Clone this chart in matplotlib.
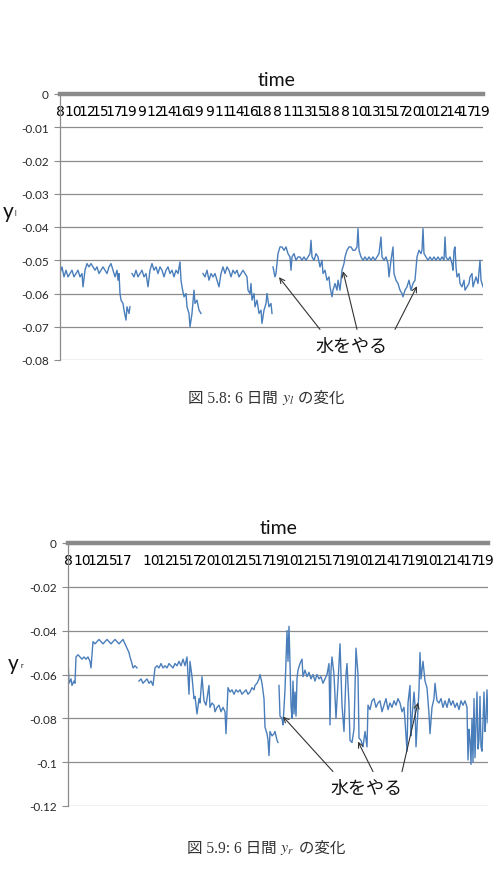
import numpy as np
import matplotlib
matplotlib.use("Agg")
import matplotlib.pyplot as plt

nan = np.nan

# ---------------- data: chart 1 (y_l) ----------------
yl_labels = ["8", "10", "12", "15", "17", "19", "9", "12", "14", "16", "19", "9", "11", "14", "16", "18",
             "8", "11", "13", "15", "18", "8", "10", "13", "15", "17", "20", "10", "12", "14", "17", "19"]
yl_ticks = [0, -0.01, -0.02, -0.03, -0.04, -0.05, -0.06, -0.07, -0.08]
yl_ticklabels = ["0", "-0.01", "-0.02", "-0.03", "-0.04", "-0.05", "-0.06", "-0.07", "-0.08"]

yl_t = [0, 2, 4, 6, 8, 10, 12, 14, 16, 18, 20, 22, 23, 25, 27, 29, 31, 33, 35, 37, 39, 41, 43, 45, 47, 49, 51,
        53, 55, 57, 58, 59, 60, 61, 63, 64, 66, 67, 69, 70,
        71,
        72, 74, 76, 78, 80, 82, 84, 86, 88, 90, 92, 94, 96, 98, 100, 102, 104, 106, 108, 110, 112, 114, 116, 118,
        120, 121, 122, 124, 126, 127, 129, 130, 132, 134, 135, 137, 139, 141,
        142,
        143, 145, 147, 149, 151, 153, 155, 157, 159, 161, 163, 165, 167, 169, 171, 173, 175, 177, 179, 181, 183,
        185, 187, 188, 190, 191, 192, 194, 195, 197, 199, 201, 202, 204, 206, 207, 209, 211, 212,
        212.5,
        213, 215, 216, 218, 220, 222, 224, 226, 228, 230, 231, 232, 234, 236, 238, 240, 242, 244, 246, 248, 250,
        251, 252, 254, 256, 258, 260, 262, 263, 265, 267, 269, 270, 272, 273, 275, 277, 278, 280, 282, 284, 285,
        287, 289, 291, 293, 295, 297, 298, 299, 301, 303, 305, 307, 309, 311, 313, 315, 317, 319, 321, 322, 324,
        326, 328, 329, 331, 333, 334, 336, 338, 340, 342, 343, 345, 347, 349, 351, 353, 355, 357, 359, 361, 362,
        363, 364, 366, 368, 370, 372, 374, 376, 378, 380, 382, 384, 385, 386, 388, 390, 392, 393, 394, 395, 396,
        397, 399, 400, 402, 404, 405, 407, 409, 410, 412, 413, 415, 416, 418, 420, 421, 423]
yl_v = [-0.054, -0.052, -0.055, -0.053, -0.055, -0.054, -0.053, -0.055, -0.054, -0.053, -0.055, -0.054, -0.058,
        -0.053, -0.051, -0.052, -0.051, -0.052, -0.053, -0.052, -0.054, -0.053, -0.052, -0.053, -0.054, -0.052,
        -0.051, -0.053, -0.055, -0.053, -0.056, -0.054, -0.060, -0.062, -0.063, -0.065, -0.068, -0.064, -0.066,
        -0.064,
        nan,
        -0.054, -0.055, -0.053, -0.055, -0.054, -0.053, -0.055, -0.054, -0.058, -0.053, -0.051, -0.053, -0.052,
        -0.054, -0.052, -0.053, -0.055, -0.053, -0.052, -0.054, -0.053, -0.055, -0.053, -0.054,
        -0.0505, -0.056, -0.058, -0.061, -0.060, -0.064, -0.066, -0.070, -0.066, -0.059, -0.063, -0.062, -0.065,
        -0.066,
        nan,
        -0.054, -0.055, -0.053, -0.056, -0.054, -0.055, -0.054, -0.056, -0.058, -0.054, -0.052, -0.054, -0.052,
        -0.053, -0.055, -0.053, -0.054, -0.053, -0.055, -0.054, -0.053, -0.054, -0.055, -0.059, -0.060, -0.057,
        -0.062, -0.060, -0.064, -0.062, -0.066, -0.065, -0.069, -0.065, -0.063, -0.060, -0.064, -0.063, -0.066,
        nan,
        -0.052, -0.055, -0.054, -0.048, -0.046, -0.046, -0.047, -0.046, -0.048, -0.049, -0.053, -0.049, -0.048,
        -0.050, -0.049, -0.049, -0.050, -0.049, -0.050, -0.049, -0.048, -0.044, -0.049, -0.050, -0.048, -0.049,
        -0.052, -0.050, -0.054, -0.053, -0.056, -0.055, -0.058, -0.061, -0.059, -0.057, -0.059, -0.056, -0.059,
        -0.053, -0.051, -0.049, -0.047, -0.046, -0.046, -0.047, -0.047, -0.046, -0.0405, -0.047, -0.049, -0.050,
        -0.049, -0.050, -0.049, -0.050, -0.049, -0.050, -0.049, -0.048, -0.043, -0.049, -0.050, -0.049, -0.051,
        -0.055, -0.050, -0.046, -0.054, -0.056, -0.057, -0.059, -0.060, -0.061, -0.059, -0.058, -0.056, -0.059,
        -0.057, -0.056, -0.049, -0.047, -0.048, -0.047, -0.0405, -0.048, -0.049, -0.050, -0.049, -0.050, -0.049,
        -0.050, -0.049, -0.050, -0.049, -0.050, -0.043, -0.049, -0.050, -0.049, -0.051, -0.053, -0.047, -0.046,
        -0.052, -0.055, -0.054, -0.057, -0.058, -0.056, -0.059, -0.058, -0.057, -0.055, -0.054, -0.058, -0.056,
        -0.055, -0.057, -0.050, -0.056, -0.058]

# ---------------- data: chart 2 (y_r) ----------------
yr_labels = ["8", "10", "12", "15", "17", "", "10", "12", "15", "17", "20", "10", "12", "15", "17", "19",
             "10", "12", "15", "17", "19", "10", "12", "14", "17", "19", "10", "12", "14", "17", "19"]
yr_ticks = [0, -0.02, -0.04, -0.06, -0.08, -0.10, -0.12]
yr_ticklabels = ["0", "-0.02", "-0.04", "-0.06", "-0.08", "-0.1", "-0.12"]

yr_t = [0, 1, 3, 4, 6, 7, 8, 10, 12, 14, 16, 18, 20, 22, 23, 25, 27, 29, 31, 33, 35, 37, 39, 41, 43, 45, 47, 49,
        51, 53, 55, 57, 59, 61, 62, 64, 65, 67, 69,
        70,
        71, 73, 75, 77, 79, 81, 83, 85, 87, 89, 91, 93, 95, 97, 99, 101, 103, 105, 107, 109, 111, 113, 115, 117,
        119, 121, 122, 124, 126, 127, 129, 131, 132, 134, 136, 138, 139, 141, 142, 144, 146, 147, 149, 151, 153,
        155, 157, 158, 160, 162, 164, 166, 168, 170, 172, 174, 176, 178, 180, 182, 184, 186, 187, 189, 191, 192,
        194, 196, 197, 199, 200, 201, 202, 204, 206, 207, 209, 210,
        210.5,
        211, 212, 214, 215, 217, 219, 220, 221, 222, 223, 224, 225, 226, 227, 228, 229, 230, 232, 234, 235, 237,
        239, 241, 243, 245, 247, 249, 251, 253, 255, 257, 259, 261, 262, 263, 264, 266, 268, 270, 272, 274, 276,
        278, 279, 281, 282, 284, 286, 288, 290, 291, 293, 295, 297, 299, 300, 302, 304, 306, 308, 310, 312, 314,
        316, 318, 320, 322, 324, 326, 328, 330, 332, 334, 336, 337, 339, 340, 342, 343, 344, 346, 347, 348, 349,
        351, 352, 353, 354, 355, 357, 359, 361, 362, 364, 366, 367, 369, 371, 373, 375, 377, 379, 381, 383, 385,
        387, 389, 391, 393, 395, 397, 399, 400, 401, 402, 403, 404, 405, 406, 407, 408, 409, 410, 411, 412, 413,
        414, 415, 416, 417, 418, 419, 420]
yr_v = [-0.053, -0.064, -0.062, -0.065, -0.063, -0.064, -0.052, -0.051, -0.052, -0.053, -0.052, -0.053, -0.052,
        -0.054, -0.057, -0.045, -0.046, -0.045, -0.044, -0.045, -0.046, -0.045, -0.044, -0.045, -0.046, -0.045,
        -0.044, -0.045, -0.046, -0.045, -0.044, -0.046, -0.048, -0.050, -0.052, -0.055, -0.057, -0.056, -0.057,
        nan,
        -0.063, -0.062, -0.064, -0.063, -0.062, -0.064, -0.063, -0.065, -0.057, -0.056, -0.057, -0.055, -0.057,
        -0.056, -0.057, -0.055, -0.056, -0.057, -0.055, -0.056, -0.054, -0.056, -0.053, -0.056, -0.052, -0.069,
        -0.054, -0.061, -0.071, -0.070, -0.078, -0.071, -0.073, -0.061, -0.072, -0.074, -0.071, -0.065, -0.075,
        -0.073, -0.074, -0.077, -0.075, -0.074, -0.077, -0.075, -0.077, -0.087, -0.066, -0.068, -0.067, -0.069,
        -0.067, -0.068, -0.067, -0.069, -0.068, -0.067, -0.069, -0.068, -0.066, -0.067, -0.065, -0.064, -0.062,
        -0.060, -0.064, -0.071, -0.084, -0.087, -0.090, -0.097, -0.086, -0.088, -0.087, -0.086, -0.090, -0.091,
        nan,
        -0.065, -0.079, -0.080, -0.083, -0.067, -0.040, -0.054, -0.038, -0.055, -0.074, -0.080, -0.063, -0.078,
        -0.068, -0.079, -0.062, -0.058, -0.055, -0.053, -0.061, -0.058, -0.061, -0.059, -0.062, -0.060, -0.063,
        -0.060, -0.062, -0.061, -0.064, -0.062, -0.060, -0.055, -0.083, -0.058, -0.052, -0.060, -0.080, -0.064,
        -0.046, -0.074, -0.086, -0.060, -0.055, -0.074, -0.090, -0.091, -0.085, -0.048, -0.060, -0.089, -0.090,
        -0.093, -0.086, -0.093, -0.074, -0.076, -0.072, -0.071, -0.075, -0.073, -0.072, -0.077, -0.074, -0.071,
        -0.076, -0.073, -0.075, -0.072, -0.074, -0.071, -0.073, -0.077, -0.075, -0.081, -0.095, -0.073, -0.065,
        -0.088, -0.080, -0.068, -0.074, -0.093, -0.084, -0.067, -0.050, -0.062, -0.058, -0.054, -0.063, -0.066,
        -0.078, -0.087, -0.075, -0.071, -0.064, -0.072, -0.073, -0.071, -0.075, -0.072, -0.075, -0.071, -0.074,
        -0.072, -0.075, -0.073, -0.076, -0.072, -0.074, -0.072, -0.075, -0.099, -0.085, -0.090, -0.101, -0.080,
        -0.100, -0.071, -0.098, -0.083, -0.068, -0.094, -0.090, -0.070, -0.093, -0.095, -0.082, -0.068, -0.086,
        -0.080, -0.067, -0.082]

annot_text = "水をやる"
cap1 = ["図 5.8: 6 日間 ", "$y_l$", " の変化"]
cap2 = ["図 5.9: 6 日間 ", "$y_r$", " の変化"]

W, H = 494, 878
fig = plt.figure(figsize=(W / 100, H / 100), dpi=100)

LINE = "#4a7ebb"
GRID = "#8c8c8c"
TXT = "#262626"
LAT = ["Lato", "DejaVu Sans"]
CJK = ["Noto Sans CJK JP", "DejaVu Sans"]
SERIF = ["Liberation Serif", "Noto Sans CJK JP"]


def px_axes(l, t, r, b):
    return fig.add_axes([l / W, 1 - b / H, (r - l) / W, (b - t) / H])


def style_axes(ax, xmax, ymin, ticks, ticklabels, xlabels, xlabel_last):
    ax.set_xlim(0, xmax)
    ax.set_ylim(ymin, 0)
    ax.set_yticks(ticks)
    ax.set_yticklabels(ticklabels, fontfamily=LAT, fontsize=8.5, color=TXT)
    ax.set_xticks(np.linspace(0, xlabel_last, len(xlabels)))
    ax.set_xticklabels(xlabels, fontfamily=LAT, fontsize=7.8, color=TXT)
    ax.tick_params(axis="x", length=0, pad=7)
    ax.tick_params(axis="y", length=4, width=0.8, color=GRID, pad=4)
    ax.yaxis.grid(True, color=GRID, lw=0.9)
    ax.set_axisbelow(True)
    for s in ("top", "right"):
        ax.spines[s].set_visible(False)
    ax.spines["left"].set_color(GRID)
    ax.spines["left"].set_linewidth(0.9)
    ax.spines["bottom"].set_position(("data", 0))
    ax.spines["bottom"].set_color("#8a8a8a")
    ax.spines["bottom"].set_linewidth(3.2)
    ax.spines["bottom"].set_zorder(3)


def caption3(ax, parts, x_px, y_px):
    t1 = fig.text(x_px / W, 1 - y_px / H, parts[0], ha="left", va="baseline",
                  fontsize=11.2, fontfamily=SERIF, color="#333")
    t2 = ax.annotate(parts[1], xy=(1, 0), xycoords=t1, ha="left", va="bottom",
                     fontsize=11.5, math_fontfamily="stix", color="#333", annotation_clip=False)
    ax.annotate(parts[2], xy=(1, 0), xycoords=t2, xytext=(0, 0), textcoords="offset points",
                ha="left", va="bottom", fontsize=11.2, fontfamily=SERIF, color="#333",
                annotation_clip=False)


# ---------------- chart 1 ----------------
ax1 = px_axes(60, 95, 483, 361)
ax1.plot(yl_t, yl_v, color=LINE, lw=1.0)
style_axes(ax1, 423, -0.08, yl_ticks, yl_ticklabels, yl_labels, 421)
fig.text(277 / W, 1 - 81 / H, "time", ha="center", va="center", fontsize=14, fontfamily=LAT, color="#111")
fig.text(3 / W, 1 - 212 / H, "y", ha="left", va="center", fontsize=15, fontfamily=LAT, color="#111")
fig.text(14 / W, 1 - 214 / H, "l", ha="left", va="center", fontsize=5, fontfamily=LAT, color="#111")

ax1.text(291, -0.0759, annot_text, ha="center", va="center", fontsize=13, fontfamily=CJK, color="#111")
for head, tail in [((219, -0.0551), (260, -0.0708)),
                   ((283, -0.0533), (297, -0.0708)),
                   ((357, -0.0578), (335, -0.0708))]:
    ax1.annotate("", xy=head, xytext=tail,
                 arrowprops=dict(arrowstyle="->", color="#333333", lw=0.8, shrinkA=0, shrinkB=0,
                                 mutation_scale=9))

caption3(ax1, cap1, 188, 403)

# ---------------- chart 2 ----------------
ax2 = px_axes(68, 544, 488, 807)
ax2.plot(yr_t, yr_v, color=LINE, lw=1.0)
style_axes(ax2, 420, -0.12, yr_ticks, yr_ticklabels, yr_labels, 417)
fig.text(279 / W, 1 - 529 / H, "time", ha="center", va="center", fontsize=14, fontfamily=LAT, color="#111")
fig.text(8 / W, 1 - 664 / H, "y", ha="left", va="center", fontsize=15, fontfamily=LAT, color="#111")
fig.text(20 / W, 1 - 666 / H, "r", ha="left", va="center", fontsize=5, fontfamily=LAT, color="#111")

ax2.text(298, -0.1117, annot_text, ha="center", va="center", fontsize=13, fontfamily=CJK, color="#111")
for head, tail in [((215, -0.0792), (265, -0.1043)),
                   ((290, -0.0906), (305, -0.1043)),
                   ((350, -0.0728), (334, -0.1043))]:
    ax2.annotate("", xy=head, xytext=tail,
                 arrowprops=dict(arrowstyle="->", color="#333333", lw=0.8, shrinkA=0, shrinkB=0,
                                 mutation_scale=9))

caption3(ax2, cap2, 187, 853)

fig.savefig("out.png", dpi=100, facecolor="white")
